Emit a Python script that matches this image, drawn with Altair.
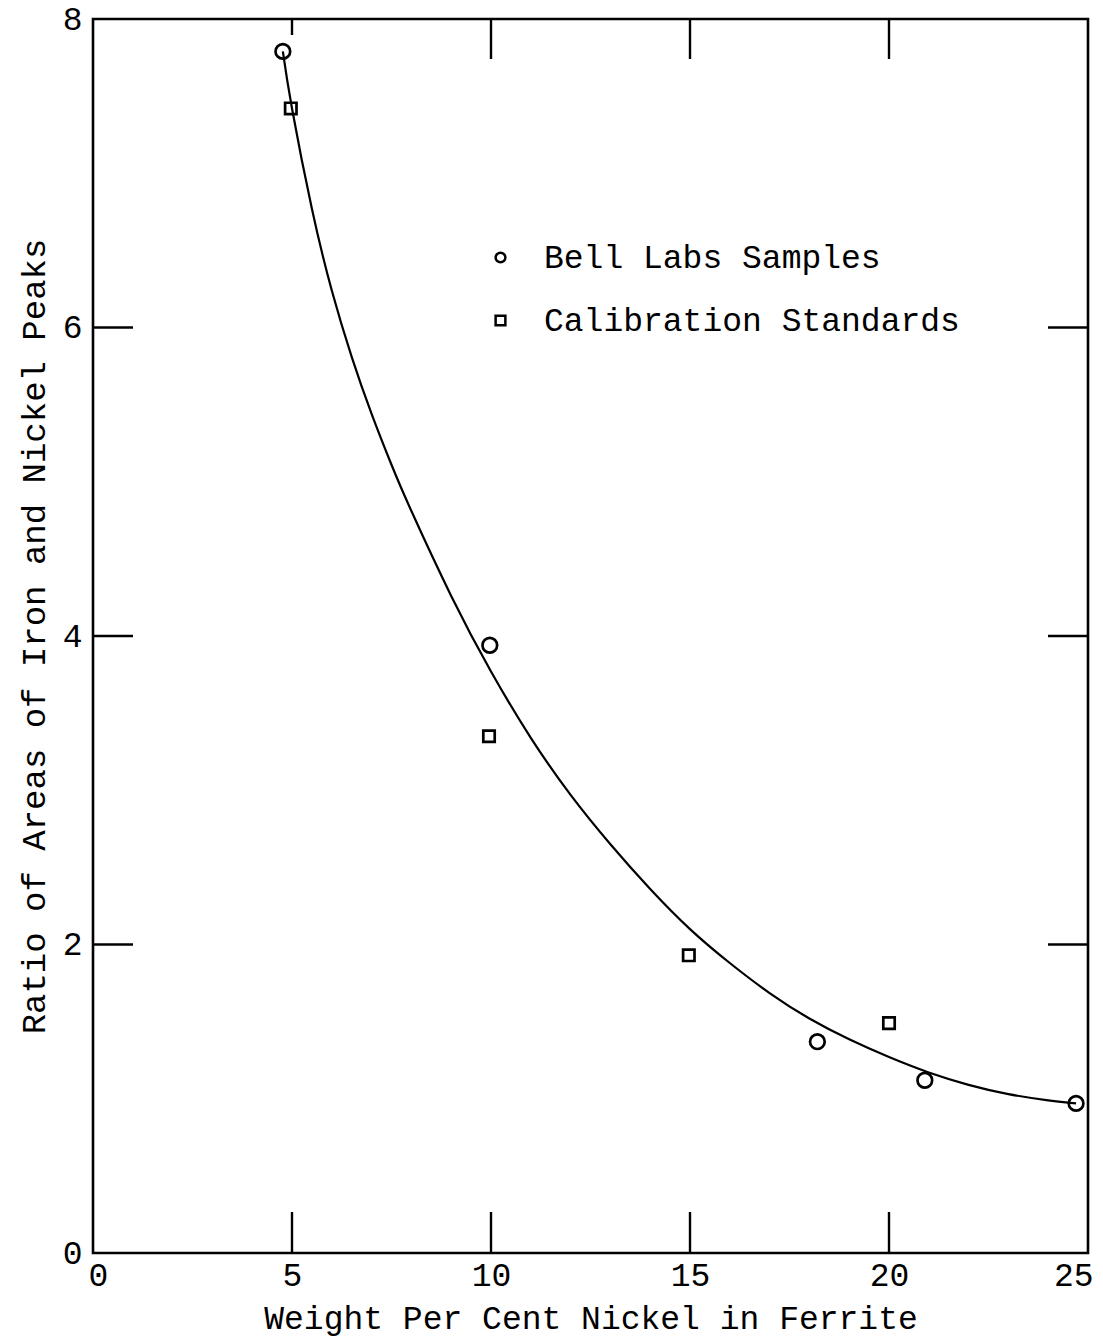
import altair as alt
import pandas as pd

# ---- data ----
bell_x = [4.77, 9.97, 18.2, 20.9, 24.7]
bell_y = [7.79, 3.94, 1.37, 1.12, 0.97]

cal_x = [4.97, 9.95, 14.97, 20.0]
cal_y = [7.42, 3.35, 1.93, 1.49]

curve_x = [4.77, 5.0, 5.5, 6.0, 6.5, 7.0, 7.5, 8.0, 9.0, 10.0, 11.0, 12.0,
           13.0, 14.0, 15.0, 16.0, 17.0, 18.0, 19.0, 20.0, 21.0, 22.0, 23.0,
           24.0, 24.7]
curve_y = [7.79, 7.42, 6.77, 6.24, 5.81, 5.44, 5.11, 4.81, 4.26, 3.77, 3.34,
           2.97, 2.65, 2.36, 2.10, 1.88, 1.685, 1.52, 1.385, 1.27, 1.17, 1.09,
           1.03, 0.99, 0.97]

series_names = ["Bell Labs Samples", "Calibration Standards"]
x_tick_values = [0, 5, 10, 15, 20, 25]
y_tick_values = [0, 2, 4, 6, 8]
x_inner_ticks = [5, 10, 15, 20]
y_inner_ticks = [2, 4, 6]

FONT = "Liberation Mono"
W, H = 995, 1234

pts = pd.DataFrame(
    {"x": bell_x + cal_x,
     "y": bell_y + cal_y,
     "series": [series_names[0]] * len(bell_x) + [series_names[1]] * len(cal_x)}
)
curve = pd.DataFrame({"x": curve_x, "y": curve_y})
xt = pd.DataFrame({"t": x_inner_ticks})
yt = pd.DataFrame({"t": y_inner_ticks})

xscale = alt.Scale(domain=[0, 25], nice=False, zero=False)
yscale = alt.Scale(domain=[0, 8], nice=False, zero=False)

xaxis = alt.Axis(values=x_tick_values, format="d", grid=False, domain=False,
                 ticks=False, labelFontSize=33, labelFont=FONT, labelPadding=6,
                 labelColor="black", title="Weight Per Cent Nickel in Ferrite",
                 titleFont=FONT, titleFontSize=33, titleFontWeight="normal",
                 titleColor="black", titlePadding=10, labelFlush=True,
                 labelFlushOffset=5)
yaxis = alt.Axis(values=y_tick_values, format="d", grid=False, domain=False,
                 ticks=False, labelFontSize=33, labelFont=FONT, labelPadding=11,
                 labelColor="black",
                 title="Ratio of Areas of Iron and Nickel Peaks",
                 titleFont=FONT, titleFontSize=34, titleFontWeight="normal",
                 titleColor="black", titlePadding=11, labelFlush=False)

base_curve = alt.Chart(curve).mark_line(
    color="black", strokeWidth=2.2, interpolate="natural"
).encode(
    x=alt.X("x:Q", scale=xscale, axis=xaxis),
    y=alt.Y("y:Q", scale=yscale, axis=yaxis),
)

points = alt.Chart(pts).mark_point(
    filled=False, color="black", strokeWidth=2.7, opacity=1
).encode(
    x=alt.X("x:Q", scale=xscale),
    y=alt.Y("y:Q", scale=yscale),
    shape=alt.Shape(
        "series:N",
        scale=alt.Scale(domain=series_names, range=["circle", "square"]),
        legend=alt.Legend(
            title=None, orient="none", legendX=391, legendY=222,
            labelFont=FONT, labelFontSize=33, labelColor="black",
            labelOffset=27, rowPadding=29, symbolSize=95,
            symbolStrokeWidth=2.5, symbolStrokeColor="black",
            symbolFillColor="white", padding=0, labelLimit=0,
        ),
    ),
    size=alt.Size(
        "series:N",
        scale=alt.Scale(domain=series_names, range=[215, 130]),
        legend=None,
    ),
)

bottom_ticks = alt.Chart(xt).mark_rule(color="black", strokeWidth=2.4).encode(
    x=alt.X("t:Q", scale=xscale), y=alt.value(H), y2=alt.value(H - 41))
top_ticks = alt.Chart(xt).transform_filter("datum.t > 5").mark_rule(
    color="black", strokeWidth=2.4).encode(
    x=alt.X("t:Q", scale=xscale), y=alt.value(0), y2=alt.value(40))
top_tick_short = alt.Chart(xt).transform_filter("datum.t == 5").mark_rule(
    color="black", strokeWidth=2.4).encode(
    x=alt.X("t:Q", scale=xscale), y=alt.value(0), y2=alt.value(16))
left_ticks = alt.Chart(yt).mark_rule(color="black", strokeWidth=2.4).encode(
    y=alt.Y("t:Q", scale=yscale), x=alt.value(0), x2=alt.value(40))
right_ticks = alt.Chart(yt).mark_rule(color="black", strokeWidth=2.4).encode(
    y=alt.Y("t:Q", scale=yscale), x=alt.value(W), x2=alt.value(W - 40))

chart = alt.layer(
    base_curve, bottom_ticks, top_ticks, top_tick_short, left_ticks,
    right_ticks, points
).resolve_scale(size="independent").properties(
    width=W, height=H,
    autosize=alt.AutoSizeParams(type="none"),
    padding={"left": 93, "top": 19, "right": 15, "bottom": 88},
    background="white",
).configure_view(
    stroke="black", strokeWidth=2.6
)

chart.save("out.html", embed_options={"renderer": "svg", "actions": False})
